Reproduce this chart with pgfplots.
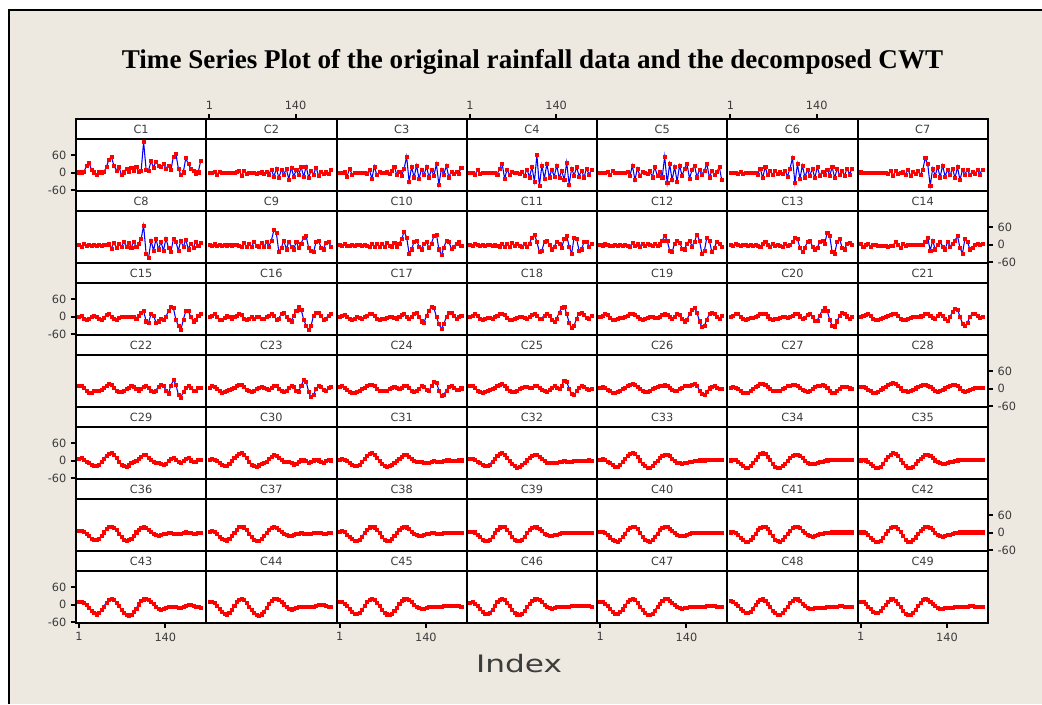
\documentclass[border=0pt]{standalone}
\usepackage{fontspec}
\setmainfont{DejaVu Sans}
\newfontfamily\titlefont{Liberation Serif}
\usepackage{pgfplots}
\usepackage{pgfplotstable}
\pgfplotsset{compat=1.18}
\usepgfplotslibrary{groupplots}
\definecolor{paper}{RGB}{237,233,224}
\definecolor{lbl}{RGB}{60,60,60}
\pgfdeclarelayer{bg}
\pgfsetlayers{bg,main}

% one table per row of panels, every 4th index
\pgfplotstableread{
x C1 C2 C3 C4 C5 C6 C7
1 2 0 0 0 0 0 2
5 2 0 0 0 0 0 0
9 3 5 2 -8 0 0 0
13 25 -6 -12 10 3 -2 0
17 35 4 14 -3 -8 5 0
21 10 0 -5 0 6 -4 0
25 2 0 0 0 0 0 0
29 -6 1 0 0 0 0 0
33 2 0 1 0 0 0 0
37 2 0 0 1 0 0 0
41 3 -1 0 0 0 0 0
45 20 3 -2 -5 3 -5 -3
49 45 8 10 15 -10 15 8
53 55 -10 -20 30 25 -18 -10
57 25 6 22 -20 -25 20 6
61 8 -3 -8 12 15 -8 -3
65 22 0 3 -8 -10 6 0
69 -5 1 0 3 3 -5 2
73 2 0 0 0 0 8 -5
77 15 -2 2 0 -3 -3 12
81 5 0 -4 -3 8 2 -10
85 18 2 8 5 -15 -3 5
89 8 -3 22 -10 20 8 -3
93 20 4 -6 12 -10 -12 8
97 4 -5 3 -15 5 15 -8
101 6 12 -10 20 -15 50 10
105 105 -14 15 -30 55 -35 50
109 12 15 55 60 -35 30 30
113 8 -18 -30 -45 30 -20 -45
117 40 10 20 25 -25 25 15
121 18 -6 -15 -20 20 -15 -10
125 38 14 25 30 -30 10 20
129 25 -22 -20 -15 25 -10 -15
133 20 18 12 10 -10 15 25
137 30 -12 -8 -12 15 -18 -12
141 15 9 22 25 30 20 10
145 25 -8 -15 -18 -20 -10 -8
149 10 20 10 8 10 5 15
153 55 -14 -10 -25 25 -6 -18
157 65 22 30 35 -15 12 20
161 15 -16 -40 -40 10 -10 -25
165 -6 6 12 15 -5 20 10
169 2 -5 -6 -10 8 -18 -6
173 50 18 25 20 30 15 12
177 30 -10 -15 -12 -15 -8 -8
181 15 4 5 8 6 6 5
185 8 -3 -4 -15 -5 -10 -4
189 -4 2 3 15 3 15 10
193 2 -2 -2 -6 20 -5 -5
197 40 10 18 10 -25 15 12
}\tabA

\pgfplotstableread{
x C8 C9 C10 C11 C12 C13 C14
1 0 0 0 0 0 0 5
5 -5 -4 -4 -3 -3 -3 -5
9 3 2 3 3 2 3 0
13 -2 -3 -2 0 0 0 3
17 0 0 -3 -3 -2 -3 -6
21 -4 -2 0 0 -3 0 0
25 0 0 -3 -2 0 0 0
29 -2 -2 0 0 -2 -2 -3
33 0 0 0 0 0 0 -2
37 -3 -3 -2 -3 -2 -3 -3
41 0 0 0 0 0 0 -3
45 0 0 -2 -3 -4 -3 -5
49 2 -2 -8 -6 -5 -5 -3
53 -12 -8 5 5 6 5 -2
57 8 6 -8 -5 -3 10 10
61 -10 -6 3 3 2 0 0
65 5 3 -5 -6 -5 -5 -10
69 -8 -8 5 6 5 5 5
73 10 10 -6 -4 -3 -2 -3
77 -6 -2 8 5 4 0 0
81 8 -5 -4 -2 0 -3 0
85 -10 8 -5 -5 -4 -6 0
89 12 -8 6 4 5 3 0
93 -8 10 -6 -5 -3 -2 0
97 5 -5 5 5 2 0 0
101 20 15 20 25 15 10 0
105 65 50 45 35 30 25 10
109 -30 40 25 10 15 20 25
113 -45 -25 -30 -25 -20 -10 -20
117 15 -10 -15 -20 -25 -25 15
121 -20 15 10 10 5 -10 -15
125 20 -15 15 15 15 10 0
129 -15 10 -5 0 8 15 10
133 10 -5 -15 -15 -12 -5 -5
137 -20 -15 5 -5 -15 -15 -15
141 22 10 10 10 5 -10 10
145 -10 -10 -10 5 15 10 -5
149 -25 5 5 -10 -5 15 5
153 20 25 30 20 10 5 15
157 10 30 35 30 35 40 30
161 -20 -10 -15 -5 15 30 -10
165 15 -20 -35 -30 -30 -25 -30
169 -8 -25 -10 25 -20 -30 20
173 18 10 15 20 25 10 10
177 -15 15 10 -20 15 20 -15
181 5 -10 -12 -15 -25 -10 -10
185 -10 -15 -8 10 -10 -15 0
189 10 8 5 12 10 5 5
193 -2 10 10 -5 5 8 0
197 8 -5 -2 5 -5 0 5
}\tabB

\pgfplotstableread{
x C15 C16 C17 C18 C19 C20 C21
1 0 0 0 0 0 0 0
5 5 3 5 5 5 5 3
9 -5 10 8 10 10 10 8
13 -10 0 0 5 8 10 10
17 -5 -10 -8 -5 -3 0 3
21 0 -10 -10 -10 -10 -8 -5
25 5 -3 -5 -8 -10 -10 -10
29 0 3 0 -3 -5 -8 -10
33 -8 0 -3 -3 -2 -3 -5
37 -10 -5 -5 -5 -3 -2 -2
41 -2 0 0 0 0 0 0
45 8 5 5 5 5 5 3
49 10 10 10 10 10 10 8
53 0 8 12 12 12 12 12
57 -8 -5 5 8 8 10 12
61 -10 -10 -5 -3 0 2 5
65 -2 -8 -10 -10 -8 -6 -5
69 0 0 -8 -10 -10 -10 -10
73 0 -5 -5 -5 -8 -8 -10
77 0 0 -2 -2 -3 -5 -6
81 0 0 0 0 0 -2 -3
85 0 -5 0 0 0 0 0
89 0 -5 -3 -3 -2 0 0
93 -5 0 -5 -5 -3 -2 0
97 5 5 0 0 0 0 2
101 15 10 8 8 8 5 5
105 20 5 10 12 12 12 10
109 -15 -10 0 5 8 10 12
113 -20 -5 -8 -5 0 2 5
117 10 10 0 -5 -5 -5 -3
121 5 15 10 5 0 -3 -5
125 -20 0 15 12 10 8 5
129 -15 -10 0 5 8 10 10
133 -5 -15 -15 -10 -5 0 5
137 -10 5 -20 -18 -15 -12 -8
141 0 20 5 -5 -10 -12 -12
145 20 35 20 15 10 5 0
149 35 25 35 30 25 22 18
153 30 -10 30 35 30 32 28
157 -10 -30 0 10 15 20 25
161 -30 -45 -25 -20 -15 -10 0
165 -45 -30 -40 -38 -35 -30 -22
169 -10 5 -25 -30 -30 -32 -30
173 20 15 0 -5 -10 -15 -20
177 20 15 15 12 10 5 0
181 0 5 15 15 15 15 12
185 -15 -10 5 8 10 12 12
189 -10 -5 -5 -3 0 2 5
193 5 5 0 -5 -5 -5 -3
197 10 10 5 5 3 0 0
}\tabC

\pgfplotstableread{
x C22 C23 C24 C25 C26 C27 C28
1 10 5 8 10 5 3 8
5 12 10 10 10 8 6 8
9 5 8 5 5 5 5 3
13 -5 0 -3 -5 -2 0 -3
17 -12 -8 -10 -10 -8 -6 -8
21 -12 -12 -12 -12 -12 -12 -12
25 -8 -10 -12 -10 -12 -14 -12
29 -5 -5 -10 -8 -10 -12 -10
33 -5 -2 -5 -3 -5 -6 -4
37 -3 0 0 0 0 0 2
41 3 5 5 5 5 6 8
45 12 10 10 10 10 12 14
49 18 15 15 15 14 16 18
53 15 15 15 16 16 18 20
57 5 8 10 10 14 14 16
61 -5 -2 0 2 8 8 10
65 -10 -8 -5 -5 0 0 2
69 -10 -10 -8 -10 -6 -5 -5
73 -5 -5 -8 -10 -10 -8 -8
77 0 0 -5 -5 -10 -8 -10
81 5 5 0 0 -5 -5 -8
85 10 8 5 5 0 0 -4
89 8 5 8 8 5 5 2
93 0 0 5 8 8 10 8
97 -5 -3 0 5 10 12 12
101 0 5 5 5 12 14 15
105 8 12 10 10 14 14 15
109 12 10 10 10 10 10 12
113 5 0 3 5 5 3 6
117 -5 -8 -5 -3 -2 -4 0
121 -10 -10 -10 -8 -5 -8 -6
125 -5 -5 -8 -10 -5 -10 -10
129 8 5 0 -3 0 -6 -8
133 15 12 10 5 5 0 -4
137 10 8 8 10 10 6 2
141 -5 -5 -2 5 12 10 8
145 -15 -10 -8 0 10 12 12
149 10 10 10 12 15 14 15
153 30 30 25 28 18 12 15
157 15 25 22 25 10 5 10
161 -20 -10 -5 0 -5 -6 2
165 -30 -28 -25 -18 -18 -14 -6
169 -10 -20 -20 -20 -20 -14 -10
173 5 0 -5 -8 -10 -8 -8
177 10 10 8 5 2 0 -4
181 5 8 10 10 8 6 0
185 -5 -2 5 8 10 8 3
189 -5 -5 -3 0 5 6 5
193 5 3 -2 -3 0 2 5
197 5 8 2 0 0 0 3
}\tabD

\pgfplotstableread{
x C29 C30 C31 C32 C33 C34 C35
1 8 5 5 6 4 2 2
5 10 8 8 8 6 5 4
9 5 5 5 4 4 3 2
13 -2 0 0 -2 -2 -3 -4
17 -8 -6 -6 -8 -8 -10 -11
21 -14 -12 -12 -14 -14 -17 -18
25 -18 -16 -16 -18 -19 -22 -23
29 -18 -16 -17 -18 -20 -23 -24
33 -12 -10 -12 -12 -14 -18 -19
37 -2 0 -3 -2 -4 -8 -9
41 8 10 8 8 6 4 3
45 18 18 18 18 17 15 14
49 25 24 24 25 24 23 22
53 27 26 27 27 27 27 27
57 20 20 22 22 23 24 25
61 10 10 12 12 14 15 17
65 -2 -2 0 0 2 3 5
69 -12 -12 -10 -10 -9 -9 -8
73 -18 -18 -18 -18 -18 -19 -18
77 -20 -20 -20 -22 -22 -24 -24
81 -15 -15 -18 -20 -22 -24 -25
85 -6 -10 -12 -14 -16 -18 -20
89 -4 -8 -6 -6 -8 -10 -11
93 0 -2 0 2 1 0 -1
97 8 6 8 10 9 9 8
101 15 15 15 17 16 16 15
105 20 20 20 21 21 21 20
109 20 18 20 20 21 21 21
113 12 12 14 14 16 16 17
117 3 4 6 6 8 9 10
121 -3 -2 0 -1 0 1 2
125 -5 -3 -3 -5 -5 -5 -4
129 -5 -3 -4 -7 -8 -9 -8
133 -10 -8 -4 -8 -9 -10 -10
137 -14 -12 -5 -7 -8 -9 -9
141 -10 -10 -6 -6 -6 -7 -7
145 0 -4 -5 -4 -4 -4 -4
149 8 2 -2 -2 -2 -2 -2
153 10 5 0 -1 0 0 0
157 5 0 -2 -2 1 2 2
161 -2 -5 -4 -3 2 3 3
165 -6 -3 -3 -2 2 3 4
169 0 2 0 0 2 3 4
173 8 5 2 1 3 4 4
177 10 2 2 1 3 4 5
181 2 -3 0 0 3 4 5
185 -4 -5 -1 0 3 4 5
189 -2 0 0 1 3 4 5
193 4 3 2 2 3 4 5
197 4 2 2 1 3 4 5
}\tabE

\pgfplotstableread{
x C36 C37 C38 C39 C40 C41 C42
1 6 5 4 3 3 2 2
5 8 7 6 5 4 3 2
9 4 3 3 2 1 0 -1
13 -3 -4 -5 -5 -6 -7 -8
17 -11 -12 -13 -14 -15 -16 -17
21 -19 -20 -21 -22 -23 -24 -25
25 -24 -25 -26 -27 -28 -29 -30
29 -25 -26 -27 -28 -29 -30 -31
33 -20 -21 -22 -23 -24 -25 -26
37 -10 -11 -12 -13 -14 -15 -16
41 2 1 0 -1 -2 -3 -4
45 13 12 11 10 10 9 8
49 20 20 19 19 18 18 17
53 22 22 22 22 22 22 22
57 18 19 19 20 20 21 21
61 9 10 11 12 13 14 15
65 -3 -2 -1 0 1 2 3
69 -14 -13 -13 -12 -12 -11 -10
73 -22 -22 -22 -22 -22 -22 -22
77 -26 -27 -27 -27 -28 -28 -29
81 -25 -26 -27 -28 -29 -30 -31
85 -19 -20 -21 -22 -23 -24 -25
89 -9 -10 -11 -12 -13 -14 -15
93 2 1 0 -1 -2 -3 -4
97 11 11 10 10 9 8 7
101 17 17 17 17 16 16 15
105 19 20 20 20 20 20 20
109 17 18 19 19 20 20 20
113 11 12 13 14 15 16 16
117 3 4 5 6 7 8 9
121 -4 -3 -3 -2 -1 0 1
125 -8 -8 -8 -8 -7 -7 -6
129 -9 -10 -10 -11 -11 -11 -11
133 -7 -9 -10 -10 -11 -12 -12
137 -4 -6 -7 -8 -9 -10 -11
141 -2 -3 -4 -5 -6 -7 -8
145 -1 -2 -2 -3 -3 -4 -5
149 0 -1 -1 -1 -1 -2 -2
153 -2 -2 -1 0 0 0 0
157 -4 -3 -2 -1 0 1 1
161 -4 -3 -2 -1 0 1 2
165 -2 -2 -2 -1 1 2 2
169 0 -1 -1 0 1 2 2
173 2 0 0 0 1 2 2
177 1 0 0 0 1 2 2
181 -1 -1 0 0 1 2 2
185 -3 -2 -1 0 1 2 2
189 -2 -2 -1 0 1 2 2
193 0 -1 0 0 1 2 2
197 1 0 0 0 1 2 2
}\tabF

\pgfplotstableread{
x C43 C44 C45 C46 C47 C48 C49
1 10 10 9 8 10 15 10
5 12 11 10 9 10 12 9
9 8 6 5 4 5 5 4
13 0 -2 -3 -4 -4 -4 -5
17 -10 -12 -13 -14 -14 -13 -14
21 -20 -22 -23 -23 -23 -21 -22
25 -28 -29 -29 -29 -29 -26 -27
29 -32 -32 -31 -31 -30 -27 -27
33 -28 -28 -27 -26 -25 -22 -21
37 -18 -18 -17 -16 -15 -12 -11
41 -5 -4 -4 -3 -2 0 1
45 8 9 9 9 10 11 12
49 17 18 17 17 18 18 19
53 20 21 20 20 20 20 20
57 17 17 17 17 16 15 15
61 8 7 8 8 7 5 4
65 -4 -5 -4 -4 -5 -7 -8
69 -16 -17 -16 -16 -17 -19 -20
73 -26 -27 -26 -26 -27 -28 -29
77 -33 -34 -32 -32 -33 -34 -34
81 -36 -36 -34 -33 -34 -34 -33
85 -33 -32 -30 -29 -29 -28 -26
89 -24 -23 -21 -20 -19 -18 -16
93 -12 -10 -9 -8 -7 -6 -4
97 2 4 4 4 5 6 8
101 13 15 14 14 15 15 16
105 19 20 19 19 20 20 20
109 20 21 20 20 20 19 18
113 17 17 16 16 15 13 12
117 11 10 9 9 8 5 4
121 3 2 1 1 0 -3 -4
125 -5 -6 -6 -5 -6 -9 -9
129 -12 -12 -11 -10 -11 -12 -12
133 -16 -15 -13 -12 -12 -12 -12
137 -14 -14 -12 -11 -11 -10 -10
141 -9 -10 -9 -8 -9 -9 -9
145 -7 -8 -7 -6 -8 -10 -9
149 -8 -8 -6 -5 -8 -10 -9
153 -8 -7 -6 -5 -7 -9 -8
157 -7 -6 -5 -5 -7 -8 -8
161 -9 -7 -5 -5 -7 -8 -8
165 -9 -7 -5 -4 -6 -7 -7
169 -5 -5 -4 -4 -5 -6 -6
173 -2 -3 -3 -3 -4 -5 -5
177 0 -1 -2 -3 -3 -4 -4
181 0 0 -2 -3 -3 -4 -4
185 -2 -1 -2 -3 -4 -5 -5
189 -5 -3 -3 -3 -5 -6 -6
193 -8 -6 -4 -4 -6 -7 -7
197 -10 -8 -5 -5 -7 -8 -7
}\tabG

\pgfplotsset{
  cell/.style={
    scale only axis, width=97.7pt, height=54pt,
    xmin=-4, xmax=206, ymin=-62, ymax=183,
    xtick=\empty, ytick=\empty,
    axis on top,
    axis background/.style={fill=white},
    axis line style={line width=1.5pt, black},
    tick style={line width=1.5pt, black},
    major tick length=3.75pt, tick align=outside,
    tick label style={font=\fontsize{8.5}{9}\selectfont, text=lbl},
    /pgf/number format/assume math mode=true,
  },
  ser/.style={blue, line width=0.8pt, mark=square*, mark size=1.15pt,
    mark options={draw=red, fill=red, line width=0.3pt}},
  topx/.style={xtick={1,140}, xtick pos=right, xticklabel pos=right},
  botx/.style={xtick={1,140}, xtick pos=left, xticklabel pos=left},
  lefty/.style={ytick={-60,0,60}, ytick pos=left, yticklabel pos=left},
  righty/.style={ytick={-60,0,60}, ytick pos=right, yticklabel pos=right},
}

\newcommand\strip[1]{%
  \draw[fill=white, line width=1.5pt] (rel axis cs:0,0.7222) rectangle (rel axis cs:1,1);
  \node[font=\fontsize{8.5}{10}\selectfont, text=lbl] at (rel axis cs:0.5,0.861) {#1};}

\begin{document}
\begin{tikzpicture}
\begin{groupplot}[group style={group size=7 by 7, horizontal sep=0pt, vertical sep=0pt, group name=group}, cell]
% row 1
\nextgroupplot[lefty]
\addplot[ser] table[y=C1]{\tabA}; \strip{C1}
\nextgroupplot[topx]
\addplot[ser] table[y=C2]{\tabA}; \strip{C2}
\nextgroupplot
\addplot[ser] table[y=C3]{\tabA}; \strip{C3}
\nextgroupplot[topx]
\addplot[ser] table[y=C4]{\tabA}; \strip{C4}
\nextgroupplot
\addplot[ser] table[y=C5]{\tabA}; \strip{C5}
\nextgroupplot[topx]
\addplot[ser] table[y=C6]{\tabA}; \strip{C6}
\nextgroupplot
\addplot[ser] table[y=C7]{\tabA}; \strip{C7}
% row 2
\nextgroupplot
\addplot[ser] table[y=C8]{\tabB}; \strip{C8}
\nextgroupplot
\addplot[ser] table[y=C9]{\tabB}; \strip{C9}
\nextgroupplot
\addplot[ser] table[y=C10]{\tabB}; \strip{C10}
\nextgroupplot
\addplot[ser] table[y=C11]{\tabB}; \strip{C11}
\nextgroupplot
\addplot[ser] table[y=C12]{\tabB}; \strip{C12}
\nextgroupplot
\addplot[ser] table[y=C13]{\tabB}; \strip{C13}
\nextgroupplot[righty]
\addplot[ser] table[y=C14]{\tabB}; \strip{C14}
% row 3
\nextgroupplot[lefty]
\addplot[ser] table[y=C15]{\tabC}; \strip{C15}
\nextgroupplot
\addplot[ser] table[y=C16]{\tabC}; \strip{C16}
\nextgroupplot
\addplot[ser] table[y=C17]{\tabC}; \strip{C17}
\nextgroupplot
\addplot[ser] table[y=C18]{\tabC}; \strip{C18}
\nextgroupplot
\addplot[ser] table[y=C19]{\tabC}; \strip{C19}
\nextgroupplot
\addplot[ser] table[y=C20]{\tabC}; \strip{C20}
\nextgroupplot
\addplot[ser] table[y=C21]{\tabC}; \strip{C21}
% row 4
\nextgroupplot
\addplot[ser] table[y=C22]{\tabD}; \strip{C22}
\nextgroupplot
\addplot[ser] table[y=C23]{\tabD}; \strip{C23}
\nextgroupplot
\addplot[ser] table[y=C24]{\tabD}; \strip{C24}
\nextgroupplot
\addplot[ser] table[y=C25]{\tabD}; \strip{C25}
\nextgroupplot
\addplot[ser] table[y=C26]{\tabD}; \strip{C26}
\nextgroupplot
\addplot[ser] table[y=C27]{\tabD}; \strip{C27}
\nextgroupplot[righty]
\addplot[ser] table[y=C28]{\tabD}; \strip{C28}
% row 5
\nextgroupplot[lefty]
\addplot[ser] table[y=C29]{\tabE}; \strip{C29}
\nextgroupplot
\addplot[ser] table[y=C30]{\tabE}; \strip{C30}
\nextgroupplot
\addplot[ser] table[y=C31]{\tabE}; \strip{C31}
\nextgroupplot
\addplot[ser] table[y=C32]{\tabE}; \strip{C32}
\nextgroupplot
\addplot[ser] table[y=C33]{\tabE}; \strip{C33}
\nextgroupplot
\addplot[ser] table[y=C34]{\tabE}; \strip{C34}
\nextgroupplot
\addplot[ser] table[y=C35]{\tabE}; \strip{C35}
% row 6
\nextgroupplot
\addplot[ser] table[y=C36]{\tabF}; \strip{C36}
\nextgroupplot
\addplot[ser] table[y=C37]{\tabF}; \strip{C37}
\nextgroupplot
\addplot[ser] table[y=C38]{\tabF}; \strip{C38}
\nextgroupplot
\addplot[ser] table[y=C39]{\tabF}; \strip{C39}
\nextgroupplot
\addplot[ser] table[y=C40]{\tabF}; \strip{C40}
\nextgroupplot
\addplot[ser] table[y=C41]{\tabF}; \strip{C41}
\nextgroupplot[righty]
\addplot[ser] table[y=C42]{\tabF}; \strip{C42}
% row 7
\nextgroupplot[lefty, botx]
\addplot[ser] table[y=C43]{\tabG}; \strip{C43}
\nextgroupplot
\addplot[ser] table[y=C44]{\tabG}; \strip{C44}
\nextgroupplot[botx]
\addplot[ser] table[y=C45]{\tabG}; \strip{C45}
\nextgroupplot
\addplot[ser] table[y=C46]{\tabG}; \strip{C46}
\nextgroupplot[botx]
\addplot[ser] table[y=C47]{\tabG}; \strip{C47}
\nextgroupplot
\addplot[ser] table[y=C48]{\tabG}; \strip{C48}
\nextgroupplot[botx]
\addplot[ser] table[y=C49]{\tabG}; \strip{C49}
\end{groupplot}

% page, frame, title and x label, in pixels from the top left corner of C1
\begin{scope}[shift={(group c1r1.north west)}, x=0.75pt, y=0.75pt]
\begin{pgfonlayer}{bg}
\fill[white] (-76,119) rectangle (966,-585);
\fill[paper] (-67,109) rectangle (966,-585);
\draw[line width=1.5pt] (-67,-585) -- (-67,109) -- (966,109);
\end{pgfonlayer}
\node[anchor=base, font=\titlefont\bfseries\fontsize{20.3}{24}\selectfont] at (456.5,51)
  {Time Series Plot of the original rainfall data and the decomposed CWT};
\node[anchor=base, xscale=1.3, font=\fontsize{18}{20}\selectfont, text=lbl] at (443,-553) {Index};
\pgfresetboundingbox
\useasboundingbox (-76,119) rectangle (966,-585);
\end{scope}
\end{tikzpicture}
\end{document}
